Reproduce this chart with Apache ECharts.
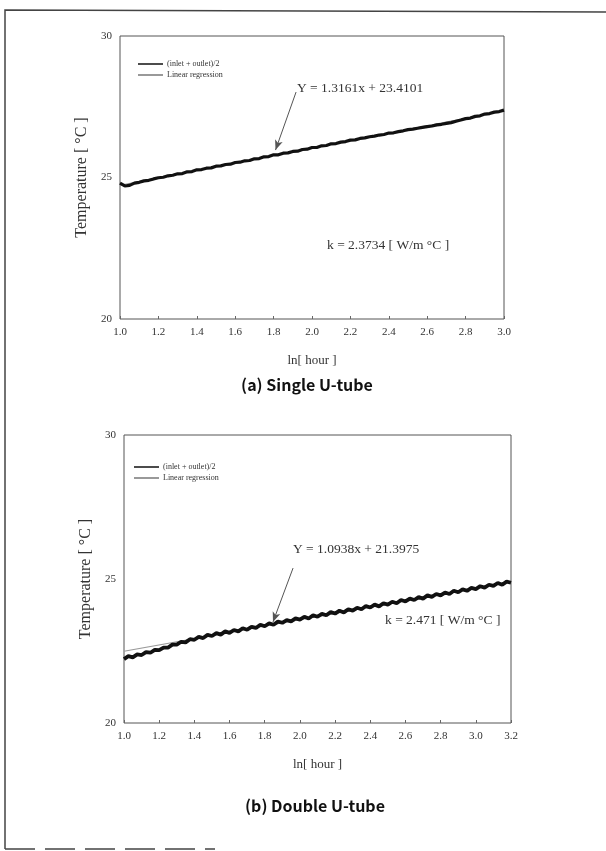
<!DOCTYPE html>
<html><head><meta charset="utf-8">
<script src="https://cdn.jsdelivr.net/npm/echarts@6/dist/echarts.min.js"></script>
<style>html,body{margin:0;padding:0;background:#fff}#c{width:606px;height:851px}</style>
</head><body><div id="c"></div>
<script>
// ---- data ----
const seriesNames = ['(inlet + outlet)/2', 'Linear regression'];
const xTicksTop = [1.0, 1.2, 1.4, 1.6, 1.8, 2.0, 2.2, 2.4, 2.6, 2.8, 3.0];
const xTicksBottom = [1.0, 1.2, 1.4, 1.6, 1.8, 2.0, 2.2, 2.4, 2.6, 2.8, 3.0, 3.2];
const yTicks = [20, 25, 30];
const xStart = 1.0, xStep = 0.025;
// (a) Single U-tube, measured mean temperature, ln(hour) 1.0 .. 3.0 step 0.025
const singleMeasured = [
  24.80,24.70,24.72,24.80,24.83,24.88,24.90,24.95,24.99,25.01,
  25.06,25.08,25.13,25.14,25.20,25.21,25.27,25.28,25.33,25.34,
  25.40,25.41,25.46,25.47,25.53,25.54,25.59,25.60,25.66,25.67,
  25.73,25.74,25.80,25.80,25.86,25.87,25.92,25.93,25.99,26.00,
  26.06,26.06,26.12,26.13,26.19,26.20,26.25,26.27,26.32,26.33,
  26.38,26.40,26.44,26.46,26.50,26.52,26.57,26.58,26.62,26.65,
  26.69,26.71,26.74,26.77,26.80,26.82,26.86,26.88,26.91,26.94,
  26.99,27.03,27.08,27.10,27.16,27.18,27.24,27.26,27.31,27.33,
  27.38
];
const singleRegression = [[1.0, 24.726], [3.0, 27.358]];
// (b) Double U-tube, ln(hour) 1.0 .. 3.2 step 0.025
const doubleMeasured = [
  22.22,22.32,22.28,22.38,22.36,22.46,22.44,22.54,22.53,22.62,
  22.62,22.72,22.72,22.82,22.80,22.91,22.89,22.99,22.95,23.06,
  23.02,23.12,23.07,23.18,23.13,23.23,23.18,23.29,23.24,23.34,
  23.30,23.41,23.36,23.46,23.41,23.52,23.48,23.57,23.53,23.63,
  23.59,23.69,23.63,23.74,23.69,23.79,23.74,23.85,23.80,23.90,
  23.84,23.95,23.90,24.00,23.95,24.06,24.01,24.11,24.05,24.16,
  24.11,24.21,24.16,24.27,24.22,24.32,24.27,24.37,24.32,24.43,
  24.38,24.48,24.43,24.53,24.48,24.59,24.54,24.64,24.59,24.69,
  24.65,24.75,24.70,24.80,24.76,24.86,24.80,24.91,24.87
];
const doubleRegression = [[1.0, 22.491], [3.2, 24.898]];
const singleArrow = [[1.917, 28.02], [1.81, 25.97]];
const doubleArrow = [[1.961, 25.38], [1.847, 23.51]];
const texts = {
  eqA: 'Y = 1.3161x + 23.4101', kA: 'k = 2.3734 [ W/m \u00B0C ]',
  eqB: 'Y = 1.0938x + 21.3975', kB: 'k = 2.471 [ W/m \u00B0C ]',
  capA: '(a) Single U-tube', capB: '(b) Double U-tube',
  xName: 'ln[ hour ]', yName: 'Temperature [ \u00B0C ]'
};

const toPairs = arr => arr.map((v, i) => [+(xStart + i * xStep).toFixed(3), v]);

const serif = 'Liberation Serif, Times New Roman, serif';
const labelStyle = { fontFamily: serif, fontSize: 11, color: '#333' };

function xAxis(gi, max, ticks) {
  return {
    type: 'value', gridIndex: gi, min: 1.0, max: max, interval: 0.2,
    axisLine: { show: false }, splitLine: { show: false },
    axisTick: { show: true, inside: true, length: 3, lineStyle: { color: '#666' } },
    axisLabel: Object.assign({ margin: 8, formatter: v => v.toFixed(1) }, labelStyle),
    name: texts.xName, nameLocation: 'middle', nameGap: 35,
    nameTextStyle: { fontFamily: serif, fontSize: 13, color: '#333' }
  };
}
function yAxis(gi) {
  return {
    type: 'value', gridIndex: gi, min: 20, max: 30, interval: 5,
    axisLine: { show: false }, splitLine: { show: false },
    axisTick: { show: false },
    axisLabel: Object.assign({ margin: 8 }, labelStyle),
    name: texts.yName, nameLocation: 'middle', nameGap: 24,
    nameTextStyle: { fontFamily: serif, fontSize: 16, color: '#333' }
  };
}
function arrowLine(pts) {
  return {
    silent: true, symbol: ['none', 'arrow'], symbolSize: [6, 10],
    lineStyle: { color: '#555', width: 1, type: 'solid' }, label: { show: false },
    data: [[{ coord: pts[0] }, { coord: pts[1] }]]
  };
}
const legendBase = {
  orient: 'vertical', itemWidth: 25, itemHeight: 1.5, itemGap: 3, icon: 'rect',
  data: seriesNames, selectedMode: false,
  textStyle: { fontFamily: serif, fontSize: 8, color: '#333', padding: [0, 0, 0, -1] }
};

const chart = echarts.init(document.getElementById('c'), null, { renderer: 'canvas' });
chart.setOption({
  animation: false,
  backgroundColor: '#fff',
  grid: [
    { left: 120, top: 36, width: 384, height: 283, show: true, borderColor: '#555', borderWidth: 1 },
    { left: 124, top: 435, width: 387, height: 288, show: true, borderColor: '#555', borderWidth: 1 }
  ],
  xAxis: [xAxis(0, 3.0, xTicksTop), xAxis(1, 3.2, xTicksBottom)],
  yAxis: [yAxis(0), yAxis(1)],
  legend: [
    Object.assign({ left: 133, top: 55 }, legendBase),
    Object.assign({ left: 129, top: 458 }, legendBase)
  ],
  series: [
    { name: seriesNames[1], type: 'line', xAxisIndex: 0, yAxisIndex: 0, data: singleRegression,
      symbol: 'none', z: 2, lineStyle: { color: '#999', width: 1.2 }, itemStyle: { color: '#777' },
      markLine: arrowLine(singleArrow) },
    { name: seriesNames[0], type: 'line', xAxisIndex: 0, yAxisIndex: 0, data: toPairs(singleMeasured),
      symbol: 'none', z: 3, lineStyle: { color: '#111', width: 3.2 }, itemStyle: { color: '#111' } },
    { name: seriesNames[1], type: 'line', xAxisIndex: 1, yAxisIndex: 1, data: doubleRegression,
      symbol: 'none', z: 2, lineStyle: { color: '#999', width: 1.2 }, itemStyle: { color: '#777' },
      markLine: arrowLine(doubleArrow) },
    { name: seriesNames[0], type: 'line', xAxisIndex: 1, yAxisIndex: 1, data: toPairs(doubleMeasured),
      symbol: 'none', z: 3, lineStyle: { color: '#111', width: 3.8 }, itemStyle: { color: '#111' } }
  ],
  graphic: [
    { type: 'polyline', shape: { points: [[606, 12], [5, 10], [5, 849]] }, style: { stroke: '#444', lineWidth: 1.5, fill: null } },
    { type: 'line', shape: { x1: 5, y1: 849, x2: 215, y2: 849 }, style: { stroke: '#444', lineWidth: 1.5, lineDash: [30, 10] } },
    { type: 'text', left: 297, top: 81, style: { text: texts.eqA, font: '13.5px ' + serif, fill: '#333' } },
    { type: 'text', left: 327, top: 238, style: { text: texts.kA, font: '13.5px ' + serif, fill: '#333' } },
    { type: 'text', left: 293, top: 542, style: { text: texts.eqB, font: '13.5px ' + serif, fill: '#333' } },
    { type: 'text', left: 385, top: 613, style: { text: texts.kB, font: '13.5px ' + serif, fill: '#333' } },
    { type: 'text', x: 307, y: 385, style: { text: texts.capA, font: 'bold 16px "Noto Sans CJK KR", "Noto Sans", sans-serif', fill: '#111', align: 'center', verticalAlign: 'middle' } },
    { type: 'text', x: 315, y: 806, style: { text: texts.capB, font: 'bold 16px "Noto Sans CJK KR", "Noto Sans", sans-serif', fill: '#111', align: 'center', verticalAlign: 'middle' } }
  ]
});
</script></body></html>
